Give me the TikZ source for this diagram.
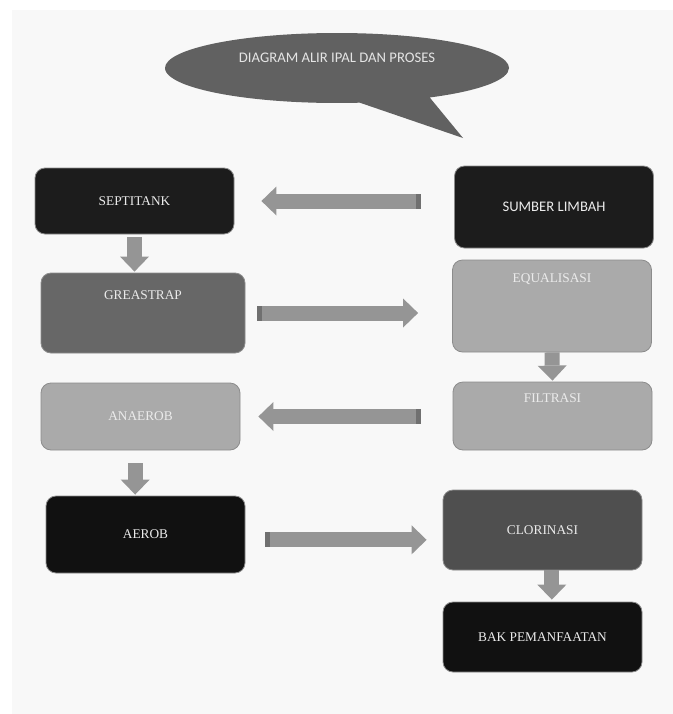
\documentclass[tikz,border=0pt]{standalone}
\usepackage{fontspec}
\setmainfont{Liberation Serif}
\newfontfamily\calibri{Carlito}
\usepackage{color}
\usepackage{tikz}
\usetikzlibrary{arrows.meta,shapes.callouts}

\definecolor{paper}{HTML}{F8F8F8}
\definecolor{bubble}{HTML}{616161}
\definecolor{bubbletext}{HTML}{E4E4E4}
\definecolor{darkbox}{HTML}{1C1C1C}
\definecolor{blackbox}{HTML}{111111}
\definecolor{greasebox}{HTML}{676767}
\definecolor{lightbox}{HTML}{AAAAAA}
\definecolor{midbox}{HTML}{4F4F4F}
\definecolor{arrowgray}{HTML}{959595}
\definecolor{bandgray}{HTML}{707070}

\begin{document}
\begin{tikzpicture}[x=0.75pt, y=-0.75pt,
	box/.style={draw=black!45, line width=0.6pt, rounded corners=7.5pt, minimum width=149.25pt, inner sep=0pt, text=white!92!black},
	flow/.style={draw=arrowgray, line width=11.25pt, -{Triangle[length=11.25pt, width=21.75pt, line width=0pt]}},
	flowtail/.style={flow, {Square[length=3.75pt, width=11.25pt, line width=0pt, color=bandgray]}-{Triangle[length=11.25pt, width=21.75pt, line width=0pt]}}
	]
	% Page
	\useasboundingbox (0,0) rectangle (673,714);
	\fill[white] (0,0) rectangle (673,714);
	\fill[paper] (12,10) rectangle (673,714);
	
	% title
	\node[ellipse callout, fill=bubble, minimum width=258pt, minimum height=52.5pt, inner sep=0pt, text height=8pt, text depth=16pt, callout absolute pointer={(463,138)}, callout pointer arc=25, text=bubbletext, font=\calibri\fontsize{11}{13}\selectfont] (title) at (337,68) {DIAGRAM ALIR IPAL DAN PROSES};
	
	% right column
	\node[box, fill=darkbox, minimum height=61.5pt, font=\calibri\fontsize{11}{13}\selectfont] (sumber) at (554,207) {SUMBER LIMBAH};
	\node[box, fill=lightbox, text height=16.5pt, text depth=52.5pt] (equalisasi) at (552,306) {EQUALISASI};
	\node[box, fill=lightbox, text height=15pt, text depth=36pt] (filtrasi) at (552.5,416) {FILTRASI};
	\node[box, fill=midbox, minimum height=60pt] (clorinasi) at (542.5,530) {CLORINASI};
	\node[box, fill=blackbox, minimum height=52.5pt] (bak) at (542.5,637) {BAK PEMANFAATAN};
	
	% left column
	\node[box, fill=darkbox, minimum height=49.5pt] (septitank) at (134.5,201) {SEPTITANK};
	\node[box, fill=greasebox, minimum width=153pt, text height=19.5pt, text depth=40.5pt] (greastrap) at (143,313) {GREASTRAP};
	\node[box, fill=lightbox, minimum height=50.25pt] (anaerob) at (140.5,416.5) {ANAEROB};
	\node[box, fill=blackbox, minimum height=57.75pt] (aerob) at (145.5,534.5) {AEROB};
	
	% arrows
	\draw[flowtail, shorten <=24.75pt, shorten >=20.25pt] (sumber.west |- septitank.east) -- (septitank.east);
	\draw[flow, shorten <=2.25pt, shorten >=0.75pt] (septitank.south) -- (septitank.south |- greastrap.north);
	\draw[flowtail, shorten <=9pt, shorten >=25.5pt] (greastrap.east) -- (greastrap.east -| equalisasi.west);
	\draw[flow, shorten >=0.75pt] (equalisasi.south) -- (filtrasi.north);
	\draw[flowtail, shorten <=24pt, shorten >=13.5pt] (filtrasi.west |- anaerob.east) -- (anaerob.east);
	\draw[flow, shorten <=9.75pt, shorten >=0.75pt] ([xshift=-4pt]anaerob.south) -- ([xshift=-4pt]anaerob.south |- aerob.north);
	\draw[flowtail, shorten <=15pt, shorten >=12pt] ([yshift=-4pt]aerob.east) -- ([yshift=-4pt]aerob.east -| clorinasi.west);
	\draw[flow, shorten >=1.5pt] ([xshift=7pt]clorinasi.south) -- ([xshift=7pt]clorinasi.south |- bak.north);
	
\end{tikzpicture}
\end{document}
